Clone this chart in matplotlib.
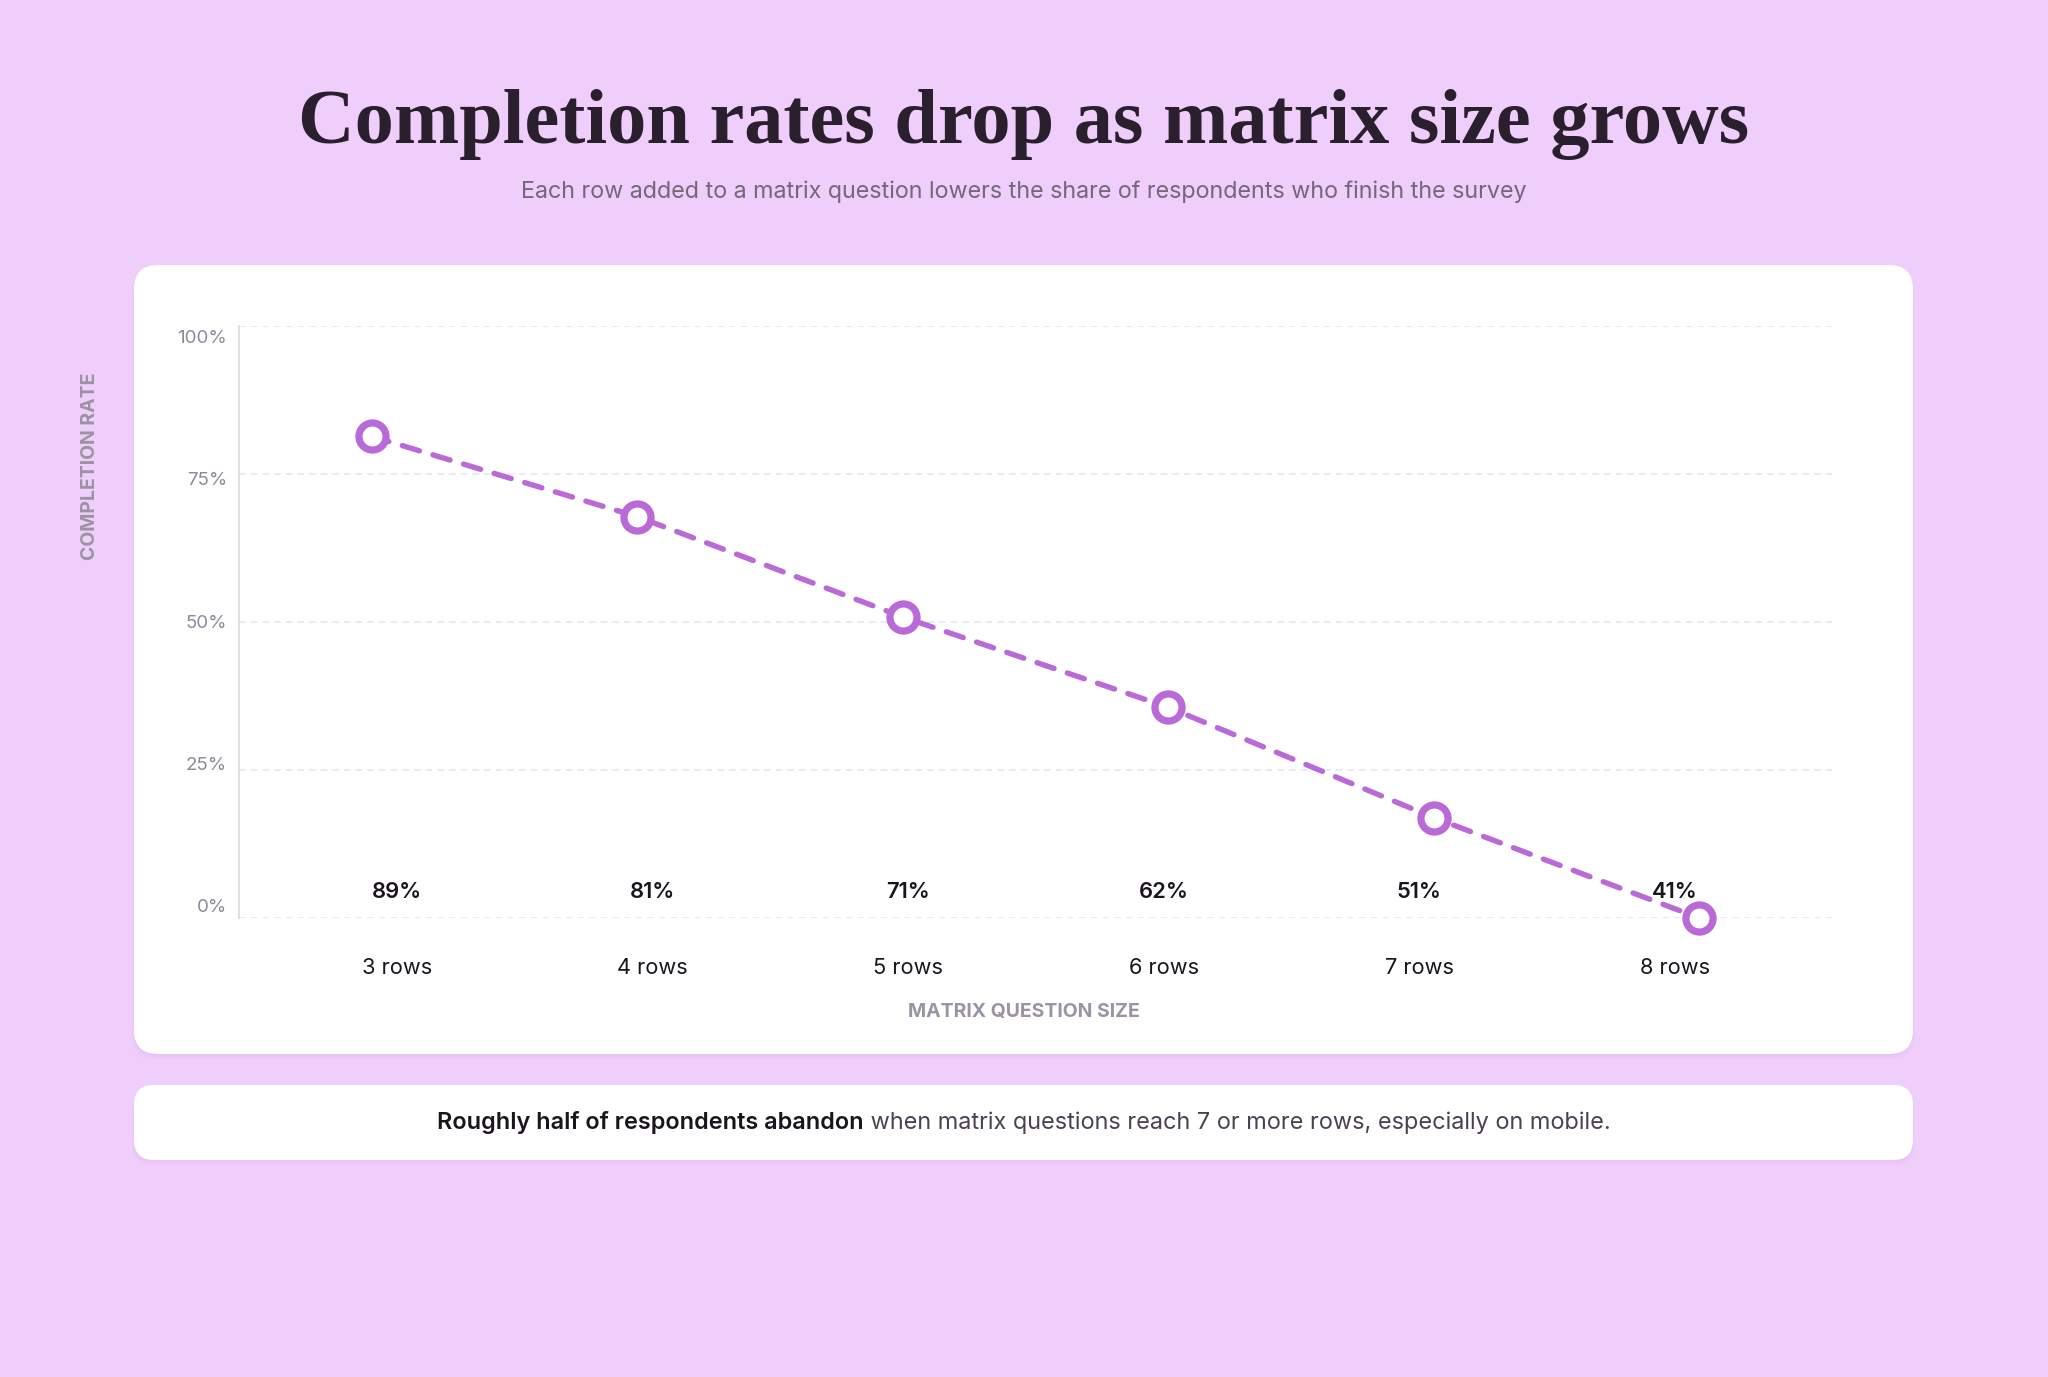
import matplotlib
matplotlib.use("Agg")
import matplotlib.pyplot as plt
from matplotlib.patches import FancyBboxPatch

# data
categories = ["3 rows", "4 rows", "5 rows", "6 rows", "7 rows", "8 rows"]
completion = [89, 81, 71, 62, 51, 41]
y_ticks = [0, 25, 50, 75, 100]

title = "Completion rates drop as matrix size grows"
subtitle = "Each row added to a matrix question lowers the share of respondents who finish the survey"
note_bold = "Roughly half of respondents abandon"
note_rest = " when matrix questions reach 7 or more rows, especially on mobile."

# colours
BG = "#f0cefb"
CARD = "#ffffff"
LINE = "#b96ad6"
DARK = "#251c29"
MUTED = "#9b93a3"
GRID = "#e9e5ee"

W, H = 2048, 1377
plt.rcParams["font.family"] = ["Inter", "DejaVu Sans"]

fig = plt.figure(figsize=(W / 100, H / 100), dpi=100, facecolor=BG)

# background layer in pixel units for the cards
bg = fig.add_axes([0, 0, 1, 1], zorder=-5)
bg.set_xlim(0, W)
bg.set_ylim(H, 0)
bg.axis("off")


def card(x0, y0, x1, y1, r):
    # soft shadow, then the white card
    for i, a in enumerate([0.035, 0.03, 0.025]):
        bg.add_patch(FancyBboxPatch((x0 - i, y0 + 2 + i), x1 - x0 + 2 * i, y1 - y0 + i,
                                    boxstyle=f"round,pad=0,rounding_size={r}",
                                    fc="#a070b0", ec="none", alpha=a))
    bg.add_patch(FancyBboxPatch((x0, y0), x1 - x0, y1 - y0,
                                boxstyle=f"round,pad=0,rounding_size={r}",
                                fc=CARD, ec="none"))


card(134, 265, 1913, 1054, 24)
card(134, 1085, 1913, 1160, 20)

# title and subtitle
fig.text(0.5, 1 - 124 / H, title, ha="center", va="center", fontsize=56.4,
         family=["Liberation Serif", "DejaVu Serif"], fontweight="bold", color="#2a1f2d")
fig.text(0.5, 1 - 192 / H, subtitle, ha="center", va="center", fontsize=16.8,
         color="#736779")

# main axes: 0-100% grid
ax = fig.add_axes([239 / W, 1 - 918 / H, (1832 - 239) / W, (918 - 326) / H])
ax.set_facecolor("none")
ax.set_xlim(-0.5, len(categories) - 0.5)
ax.set_ylim(0, 100)
for t in y_ticks:
    ax.axhline(t, color=GRID, lw=1.2, ls=(0, (4, 3)), zorder=0)
for s in ["top", "right", "bottom"]:
    ax.spines[s].set_visible(False)
ax.spines["left"].set_color("#ddd8e3")
ax.spines["left"].set_linewidth(1.2)
ax.set_xticks([])
ax.set_yticks([])

# tick labels sit slightly inside the grid range
for t in y_ticks:
    ax.text(-12 / (1832 - 239), 0.0169 + t / 100 * 0.9628, f"{t}%",
            transform=ax.transAxes, ha="right", va="center", fontsize=13.5, color="#8f8898")

# line drawn on its own scale (min value to 100)
lx = ax.twinx()
lx.set_ylim(min(completion), 100)
lx.axis("off")
lx.plot(range(len(categories)), completion, color=LINE, lw=3.9,
        ls=(0, (3.3, 2.6)), dash_capstyle="round", zorder=3, clip_on=False)
lx.plot(range(len(categories)), completion, ls="none", marker="o", ms=19.5,
        mfc="white", mec=LINE, mew=5.2, zorder=4, clip_on=False)

# value labels and category labels
for i, (c, v) in enumerate(zip(categories, completion)):
    fx = 0.0992 + i * 0.1604
    ax.text(fx, 26 / 592, f"{v}%", transform=ax.transAxes, ha="center", va="center",
            fontsize=15.8, fontweight="semibold", color="#1a141d", zorder=5)
    ax.text(fx, -50 / 592, c, transform=ax.transAxes, ha="center", va="center",
            fontsize=15.7, color="#1a141d")

# axis titles
fig.text(0.5, 1 - 1012 / H, "MATRIX QUESTION SIZE", ha="center", va="center",
         fontsize=14, fontweight="bold", color=MUTED)
fig.text(90 / W, 1 - 466 / H, "COMPLETION RATE", ha="center", va="center",
         rotation=90, fontsize=14, fontweight="bold", color=MUTED)

# footnote with a bold lead-in
renderer = fig.canvas.get_renderer()
yb = 1 - 1123 / H
t1 = fig.text(0, yb, note_bold, ha="left", va="center", fontsize=16.9,
              fontweight="semibold", color="#1a141d")
t2 = fig.text(0, yb, note_rest, ha="left", va="center", fontsize=16.9, color="#4b4150")
w1 = t1.get_window_extent(renderer).width
w2 = t2.get_window_extent(renderer).width
x0 = (W - (w1 + w2)) / 2
t1.set_x(x0 / W)
t2.set_x((x0 + w1) / W)

fig.savefig("out.png", dpi=100, facecolor=BG)
